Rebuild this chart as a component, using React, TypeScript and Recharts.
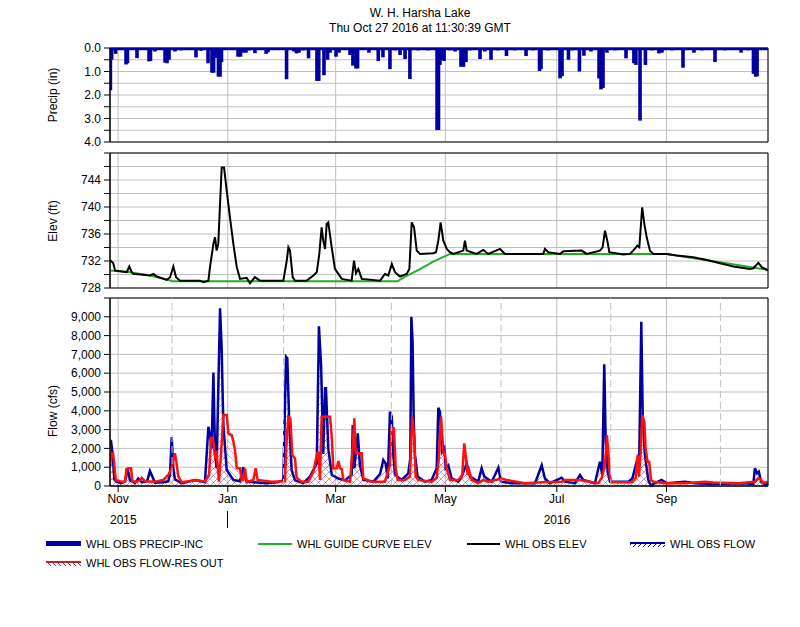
import React from 'react';
import {
  ComposedChart,
  Bar,
  Line,
  Area,
  XAxis,
  YAxis,
  CartesianGrid,
  ReferenceLine,
  ReferenceArea,
} from 'recharts';

const FONT = '"Liberation Sans", Arial, sans-serif';
const GRID = '#c0c0c0';
const BLUE = '#0000a0';
const RED = '#ff1010';
const GREEN = '#22b022';

// x = days since 1 Nov 2015 00:00; window is 27 Oct 2015 11:30 .. 27 Oct 2016 11:30
const X_DOMAIN: [number, number] = [-4.52, 361.48];
const monthTicks = [0, 61, 121, 182, 244, 305];
const monthLabels = ['Nov', 'Jan', 'Mar', 'May', 'Jul', 'Sep'];
const minorMonths = [30, 92, 152, 213, 274, 335];

// incremental precip (in)
const precipDays = [
  -4.3, -3.6, -1.4, 4.4, 5.2, 10.5, 17.2, 18, 20.5, 26.1, 27.2, 28.3, 31.6, 35, 43.3, 46.1,
  50, 52.2, 53.1, 54.2, 55.8, 56.7, 57.5, 66.7, 68.1, 69.5, 71.1, 72.8, 76.1, 82.3, 83.4,
  93.7, 97.8, 99.2, 100.6, 102.8, 105.9, 110.6, 111.6, 114.5, 116.5, 117.9, 121.2, 122.9,
  129, 130.6, 132.3, 133.2, 136.8, 139.5, 144.7, 147.3, 151.2, 154, 156.8, 159.6, 162.3,
  166.8, 172.4, 177.4, 178.2, 179, 180.1, 181.3, 184.6, 187.4, 190.7, 192.1, 193.5, 195.7,
  201.3, 204, 207.4, 211.3, 216, 220.7, 226.9, 230.8, 234.4, 235.2, 239.1, 245.8, 246.9,
  250.5, 252.5, 256.6, 259.1, 263, 267.5, 268.6, 269.7, 271.9, 276.4, 282.5, 286.9, 288,
  290.3, 293.3, 297, 300.8, 302.5, 308, 314.2, 320.3, 324.8, 332, 337.6, 346.5, 350.3,
  353.4, 354.6, 355.4,
];
const precipInches = [
  1.8, 0.5, 0.25, 0.7, 0.65, 0.43, 0.57, 0.55, 0.15, 0.62, 0.65, 0.5, 0.15, 0.1, 0.4, 0.12,
  0.65, 1.05, 1.05, 0.42, 1.22, 1.22, 0.6, 0.37, 0.37, 0.2, 0.2, 0.1, 0.22, 0.25, 0.18,
  1.33, 0.15, 0.23, 0.2, 0.1, 0.44, 1.4, 1.4, 1.16, 0.5, 0.2, 0.37, 0.2,
  0.3, 0.75, 0.87, 0.87, 0.08, 0.2, 0.55, 0.4, 0.9, 0.1, 0.3, 0.47, 1.32,
  0.1, 0.1, 3.49, 3.49, 0.72, 0.5, 0.55, 0.1, 0.15, 0.8, 0.8, 0.6, 0.1,
  0.47, 0.15, 0.5, 0.1, 0.34, 0.1, 0.34, 0.1, 0.98, 0.9, 0.1, 1.29, 1.2,
  0.5, 0.1, 1.0, 0.33, 0.15, 1.3, 1.76, 1.7, 0.2, 0.1, 0.44, 0.65, 0.72,
  3.09, 0.72, 0.1, 0.23, 0.2, 0.1, 0.84, 0.2, 0.1, 0.6, 0.1, 0.2, 0.1,
  1.1, 1.22, 1.2,
];

// observed pool elevation (ft)
const elevDays = [
  -4.5, -2.7, -1.7, 4.8, 6.2, 7.6, 8.5, 14, 17.7, 19.6, 21.5, 27, 28.9, 30.7, 32.2, 34.4,
  45.6, 47.4, 50.2, 51.1, 53, 53.9, 54.8, 55.7, 57.6, 58.9, 60.4, 62.2, 64.1, 66, 67.8,
  71.5, 73.4, 76.1, 78.9, 91.9, 93.8, 94.7, 95.6, 97.1, 98.4, 104.9, 108.6, 110.5, 111.9,
  113.2, 114.1, 115.1, 116, 116.9, 118.8, 120.6, 122.5, 124.4, 129.9, 131.2, 132.3, 133.6,
  135.5, 145.7, 148.4, 150.3, 152.2, 154, 156.8, 160.5, 162, 163.3, 164.6, 166.1, 167.9,
  175.3, 176.8, 178.1, 179.4, 180.9, 182.8, 184.6, 186.4, 192, 192.9, 193.9, 199.4, 203.1,
  205.9, 212.4, 215.2, 236.5, 237.4, 239.3, 245.8, 247.6, 257.8, 260.6, 268, 269.5, 270.8,
  272.1, 273.2, 281, 284.7, 286.5, 288.8, 289.9, 291.5, 292.7, 294, 295.8, 297.7, 305.1,
  310.7, 319.9, 327.4, 334.8, 342.2, 351.4, 353.3, 356.1, 358, 361.5,
];
const elevFeet = [
  732.16, 731.67, 730.59, 730.34, 731.18, 730.34, 730.09, 729.95, 729.85, 730.09, 729.7,
  729.19, 729.6, 731.18, 729.6, 729.09, 729.09, 728.86, 729.09, 731.08, 734.53, 735.51,
  733.54, 734.53, 745.86, 745.86, 742.41, 738.47, 734.53, 731.08, 729.35, 729.5, 728.71,
  729.6, 729.09, 729.09, 732.06, 734.03, 733.54, 729.6, 729.09, 729.09, 729.85, 730.34,
  733.05, 736.99, 735.02, 733.79, 737.48, 737.73, 734.03, 730.83, 730.09, 729.35, 729.09,
  732.06, 730.19, 730.83, 729.35, 729.09, 730.09, 729.85, 731.57, 730.34, 729.7, 730.09,
  730.83, 737.73, 736.99, 733.54, 733.05, 733.15, 733.3, 735.02, 737.73, 735.02, 733.79,
  733.3, 733.05, 733.54, 735.02, 733.54, 733.05, 733.64, 733.05, 733.79, 733.05, 733.05,
  733.79, 733.3, 733.05, 733.44, 733.54, 733.05, 733.54, 734.03, 736.5, 735.02, 733.3,
  732.95, 733.05, 733.54, 734.28, 734.03, 739.95, 737.48, 735.51, 733.54, 733.05, 733.05,
  732.8, 732.56, 732.16, 731.67, 731.18, 730.83, 730.93, 731.72, 731.08, 730.59,
];

// guide curve elevation (ft)
const guideDays = [-4.5, 4.8, 17.7, 23.3, 28.9, 30, 155.3, 160.5, 167.9, 175.3, 184.6, 305.1, 334.8, 361.5];
const guideFeet = [730.6, 730.4, 729.85, 729.5, 729.1, 729.0, 729.0, 729.8, 730.8, 731.9, 733.05, 733.05, 731.8, 730.7];

// observed inflow (cfs)
const inflowDays = [
  -4.5, -3.9, -3.2, -2.1, -0.8, 1.6, 3.8, 5.3, 6.6, 9.4, 11.2, 13.1, 16.1, 17.7, 20.5, 25.1,
  27.9, 28.9, 29.8, 30.7, 31.6, 35.4, 42.8, 48.3, 50.2, 51.1, 52, 53, 53.9, 54.8, 55.7, 56.7,
  57.6, 58.5, 60.4, 64.1, 67.8, 69.6, 71.5, 75.2, 82.6, 88.2, 91.9, 93.4, 94.1, 95.2, 96.5,
  98.4, 103, 106.7, 108.6, 110.5, 111.7, 112.9, 114.1, 115.1, 115.6, 116.9, 118.8, 122.5,
  126.2, 129.9, 130.5, 131.4, 133.3, 134.5, 136.4, 142, 145.7, 147.5, 148.8, 150, 151.2,
  152.2, 153.1, 154, 157.7, 161.4, 162.5, 163.1, 163.8, 164.4, 165.1, 166.6, 170.7, 174.4,
  177.2, 178.1, 179, 180.3, 181.4, 182.2, 183.7, 185.5, 189.2, 191.1, 193.9, 195.7, 200.3,
  202.2, 203.7, 207.8, 211.5, 213, 218.9, 226.3, 231.9, 235.6, 237.4, 240.2, 246.7, 248.6,
  254.1, 256.9, 258.7, 265.2, 268, 269.3, 270.4, 271.2, 272.3, 273.6, 283.8, 286, 288.4,
  289.9, 291, 291.8, 293, 294.9, 296.4, 298.6, 302.3, 305.1, 315.3, 320.9, 330.1, 348.7,
  353.3, 354.2, 355.4, 356.4, 357.6, 359.8, 361.3,
];
const inflowCfs = [
  2300, 2350, 1800, 350, 230, 150, 230, 920, 300, 150, 400, 200, 250, 800, 180, 200,
  250, 670, 2600, 940, 350, 150, 320, 200, 3150, 2700, 2000, 6040, 1825, 940, 5100, 9450,
  7300, 3300, 850, 320, 250, 1000, 250, 200, 150, 200, 300, 6875, 6800, 3300, 850,
  300, 150, 500, 850, 1200, 8500, 6400, 1700, 5200, 5200, 2000, 600, 400,
  300, 600, 3240, 940, 2800, 1100, 320, 230, 640, 1380, 1200, 400, 3950,
  3690, 1650, 600, 320, 670, 1470, 9000, 7670, 3600, 1650, 500, 230, 320,
  940, 4160, 3950, 1825, 2000, 940, 1100, 400, 230, 500, 1200, 500, 230,
  940, 500, 230, 975, 230, 150, 150, 150, 1100, 400, 150, 440, 230,
  150, 585, 320, 150, 1290, 600, 6470, 2360, 760, 230, 230, 400, 1290,
  1740, 8740, 3770, 1650, 320, 20, 150, 320, 150, 230, 150, 100, 150,
  100, 940, 670, 760, 230, 50, 150,
];

// observed reservoir outflow (cfs)
const outflowDays = [
  -4.5, -3.9, -2.8, -2.1, -1.3, 2, 3.8, 4.6, 5.5, 7.2, 7.9, 10.3, 12.2, 13.1, 15, 20.5, 25.1,
  27.9, 29.8, 31.6, 32.4, 33.5, 35.4, 43.7, 48.3, 50.6, 51.7, 53, 53.9, 54.8, 56.1, 57.2,
  58.5, 60.4, 61.3, 63.2, 64.1, 65, 66, 67.8, 68.7, 69.6, 70.6, 71.5, 75.2, 76.5, 77.6,
  85.4, 92.8, 93.7, 94.7, 95.8, 96.9, 98.4, 99.3, 102.1, 105.8, 108.6, 110.5, 111.3, 112.3,
  113.2, 117.9, 118.8, 119.7, 121.6, 122.5, 123.5, 124.4, 125.3, 129, 130.3, 131.4, 132.1,
  135.5, 136.4, 141, 148.4, 150.3, 151.2, 152.2, 153.4, 154.4, 155.5, 159.6, 162.3, 163.6,
  164.7, 165.5, 167, 174.4, 177.2, 178.5, 179.6, 180.9, 181.8, 182.7, 184.6, 189.2, 191.4,
  192.5, 193.3, 194.4, 195.2, 196.7, 200.3, 203.1, 205.9, 213.3, 216.1, 226.3, 235.6, 246.7,
  248.6, 256.9, 259.7, 267.1, 269, 270.8, 271.9, 272.6, 273.6, 274.5, 285.6, 287.9, 289,
  289.7, 290.7, 291.5, 292.7, 293.4, 294.5, 295.4, 296.4, 297.7, 304.2, 315.3, 326.4, 331,
  344.9, 354.2, 356.1, 357.4, 358.8, 361.3,
];
const outflowCfs = [
  1030, 1740, 1740, 1100, 320, 230, 230, 900, 940, 940, 250, 230, 300, 440, 250, 230, 320,
  585, 940, 1740, 1290, 500, 200, 320, 230, 585, 2620, 2360, 1560, 1740, 230, 1650,
  3770, 3770, 2800, 2710, 2360, 1910, 940, 940, 320, 320, 940, 200, 320, 940, 320,
  230, 250, 2360, 3690, 3600, 1650, 1470, 440, 230, 230, 760, 1650, 1825, 320,
  3690, 3690, 2620, 940, 940, 1330, 940, 900, 320, 230, 1825, 3600, 1740,
  1740, 400, 230, 230, 850, 1100, 3100, 3065, 940, 320, 320, 500, 3690,
  2620, 500, 320, 230, 440, 1560, 3690, 1825, 1740, 940, 320, 320, 585,
  2270, 1650, 585, 850, 320, 150, 320, 230, 400, 320, 150, 200, 230,
  320, 320, 270, 150, 440, 1100, 2710, 1825, 500, 200, 200, 440, 1650,
  500, 1825, 3770, 3420, 2000, 1290, 1290, 320, 230, 150, 150, 230, 180,
  150, 230, 400, 370, 150, 230,
];

const precip = precipDays.map((d, i) => ({ d, p: precipInches[i] }));
const elev = elevDays.map((d, i) => ({ d, e: elevFeet[i] }));
const guide = guideDays.map((d, i) => ({ d, g: guideFeet[i] }));
const inflow = inflowDays.map((d, i) => ({ d, q: inflowCfs[i] }));
const outflow = outflowDays.map((d, i) => ({ d, q: outflowCfs[i] }));

const precipTicks = [0, 0.5, 1, 1.5, 2, 2.5, 3, 3.5, 4];
const elevTicks = [728, 730, 732, 734, 736, 738, 740, 742, 744, 746, 748];
const flowTicks = [0, 1000, 2000, 3000, 4000, 5000, 6000, 7000, 8000, 9000, 10000];

const tickStyle = { fill: '#000', fontSize: 12, fontFamily: FONT };
const MARGIN_LR = { left: 50, right: 32 };

const Border = ({ y1, y2 }: { y1: number; y2: number }) => (
  <ReferenceArea x1={X_DOMAIN[0]} x2={X_DOMAIN[1]} y1={y1} y2={y2} fill="none" stroke="#000" strokeWidth={1} ifOverflow="visible" />
);

// fixed-width bars centred on their day (the data are closer together than a bar is wide)
const PrecipBar = (props: any) => {
  const { x, y, width, height } = props;
  if (!height) return null;
  const w = 3.6;
  const top = Math.min(y, y + height);
  return <rect x={x + width / 2 - w / 2} y={top} width={w} height={Math.abs(height)} fill={BLUE} />;
};

const PrecipPanel = () => (
  <ComposedChart width={800} height={158} data={precip} margin={{ top: 48, bottom: 16, ...MARGIN_LR }}>
    <CartesianGrid stroke={GRID} />
    <XAxis dataKey="d" type="number" domain={X_DOMAIN} ticks={monthTicks} allowDataOverflow hide />
    <YAxis
      reversed
      domain={[0, 4]}
      ticks={precipTicks}
      width={60}
      tickSize={6}
      tickMargin={3}
      tick={tickStyle}
      tickLine={{ stroke: '#000' }}
      axisLine={{ stroke: '#000' }}
      tickFormatter={(v: number) => (Number.isInteger(v) ? v.toFixed(1) : '')}
      interval={0}
    />
    <Bar dataKey="p" fill={BLUE} shape={PrecipBar} isAnimationActive={false} />
    <ReferenceLine y={0.04} stroke={BLUE} strokeWidth={2.5} />
    <Border y1={0} y2={4} />
  </ComposedChart>
);

const ElevPanel = () => (
  <ComposedChart width={800} height={152} margin={{ top: 3, bottom: 14, ...MARGIN_LR }}>
    <CartesianGrid stroke={GRID} />
    <XAxis dataKey="d" type="number" domain={X_DOMAIN} ticks={monthTicks} allowDataOverflow hide />
    <YAxis
      domain={[728, 748]}
      ticks={elevTicks}
      width={60}
      tickSize={6}
      tickMargin={3}
      tick={tickStyle}
      tickLine={{ stroke: '#000' }}
      axisLine={{ stroke: '#000' }}
      tickFormatter={(v: number) => ((v - 728) % 4 === 0 && v !== 748 ? String(v) : '')}
      interval={0}
    />
    <Line data={guide} dataKey="g" type="linear" stroke={GREEN} strokeWidth={2} dot={false} activeDot={false} isAnimationActive={false} />
    <Line data={elev} dataKey="e" type="linear" stroke="#000" strokeWidth={2} dot={false} activeDot={false} isAnimationActive={false} />
    <Border y1={728} y2={748} />
  </ComposedChart>
);

const FlowPanel = () => (
  <ComposedChart width={800} height={230} margin={{ top: 8, bottom: 4, ...MARGIN_LR }}>
    <defs>
      <pattern id="hatchBlue" patternUnits="userSpaceOnUse" width="7" height="7">
        <path d="M0,7 L7,0" stroke={BLUE} strokeWidth="0.7" strokeOpacity="0.55" />
      </pattern>
      <pattern id="hatchRed" patternUnits="userSpaceOnUse" width="7" height="7">
        <path d="M0,0 L7,7" stroke="#d02020" strokeWidth="0.7" strokeOpacity="0.55" />
      </pattern>
    </defs>
    <CartesianGrid stroke={GRID} />
    {minorMonths.map((m) => (
      <ReferenceLine key={m} x={m} stroke={GRID} strokeDasharray="7 4" />
    ))}
    <XAxis
      dataKey="d"
      type="number"
      domain={X_DOMAIN}
      ticks={monthTicks}
      allowDataOverflow
      height={30}
      tickSize={6}
      tickMargin={2}
      tick={tickStyle}
      tickLine={{ stroke: '#000' }}
      axisLine={{ stroke: '#000' }}
      interval={0}
      tickFormatter={(v: number) => monthLabels[monthTicks.indexOf(v)] ?? ''}
    />
    <YAxis
      domain={[0, 10000]}
      ticks={flowTicks}
      width={60}
      tickSize={6}
      tickMargin={3}
      tick={tickStyle}
      tickLine={{ stroke: '#000' }}
      axisLine={{ stroke: '#000' }}
      interval={0}
      tickFormatter={(v: number) => (v === 10000 ? '' : v.toLocaleString('en-US'))}
    />
    <Area data={inflow} dataKey="q" type="linear" stroke={BLUE} strokeWidth={2.5} fill="url(#hatchBlue)" fillOpacity={1} activeDot={false} isAnimationActive={false} />
    <Area data={outflow} dataKey="q" type="linear" stroke={RED} strokeWidth={2.5} fill="url(#hatchRed)" fillOpacity={1} activeDot={false} isAnimationActive={false} />
    <Border y1={0} y2={10000} />
  </ComposedChart>
);

const Overlay = () => (
  <svg width={800} height={627} style={{ position: 'absolute', left: 0, top: 0, pointerEvents: 'none' }} fontFamily={FONT}>
    <defs>
      <pattern id="legHatchBlue" patternUnits="userSpaceOnUse" width="5" height="5">
        <path d="M0,5 L5,0" stroke={BLUE} strokeWidth="1" />
      </pattern>
      <pattern id="legHatchRed" patternUnits="userSpaceOnUse" width="5" height="5">
        <path d="M0,0 L5,5" stroke="#c02020" strokeWidth="1" />
      </pattern>
    </defs>
    <text x={420} y={17} fontSize={12} textAnchor="middle">W. H. Harsha Lake</text>
    <text x={420} y={32} fontSize={12} textAnchor="middle">Thu Oct 27 2016 at 11:30:39 GMT</text>

    <text transform="translate(57,95) rotate(-90)" fontSize={12} textAnchor="middle">Precip (in)</text>
    <text transform="translate(57,221) rotate(-90)" fontSize={12} textAnchor="middle">Elev (ft)</text>
    <text transform="translate(57,411) rotate(-90)" fontSize={12} textAnchor="middle">Flow (cfs)</text>

    <text x={110} y={524} fontSize={12}>2015</text>
    <text x={557} y={524} fontSize={12} textAnchor="middle">2016</text>
    <line x1={227.5} y1={511} x2={227.5} y2={528} stroke="#000" />

    <g fontSize={11}>
      <rect x={46} y={541} width={35} height={5} fill={BLUE} />
      <text x={86} y={548}>WHL OBS PRECIP-INC</text>
      <line x1={258} y1={544} x2={292} y2={544} stroke={GREEN} strokeWidth={2} />
      <text x={297} y={548}>WHL GUIDE CURVE ELEV</text>
      <line x1={467} y1={544} x2={500} y2={544} stroke="#000" strokeWidth={2} />
      <text x={505} y={548}>WHL OBS ELEV</text>
      <rect x={630} y={543} width={35} height={4} fill="url(#legHatchBlue)" />
      <line x1={630} y1={543} x2={665} y2={543} stroke={BLUE} strokeWidth={2} />
      <text x={670} y={548}>WHL OBS FLOW</text>
      <rect x={46} y={562} width={35} height={4} fill="url(#legHatchRed)" />
      <line x1={46} y1={562} x2={81} y2={562} stroke="#c02020" strokeWidth={2} />
      <text x={86} y={567}>WHL OBS FLOW-RES OUT</text>
    </g>
  </svg>
);

export default function App() {
  return (
    <div style={{ position: 'absolute', left: 0, top: 0, width: 800, height: 627, background: '#fff' }}>
      <div style={{ position: 'absolute', left: 0, top: 0 }}>
        <PrecipPanel />
      </div>
      <div style={{ position: 'absolute', left: 0, top: 150 }}>
        <ElevPanel />
      </div>
      <div style={{ position: 'absolute', left: 0, top: 290 }}>
        <FlowPanel />
      </div>
      <Overlay />
    </div>
  );
}
